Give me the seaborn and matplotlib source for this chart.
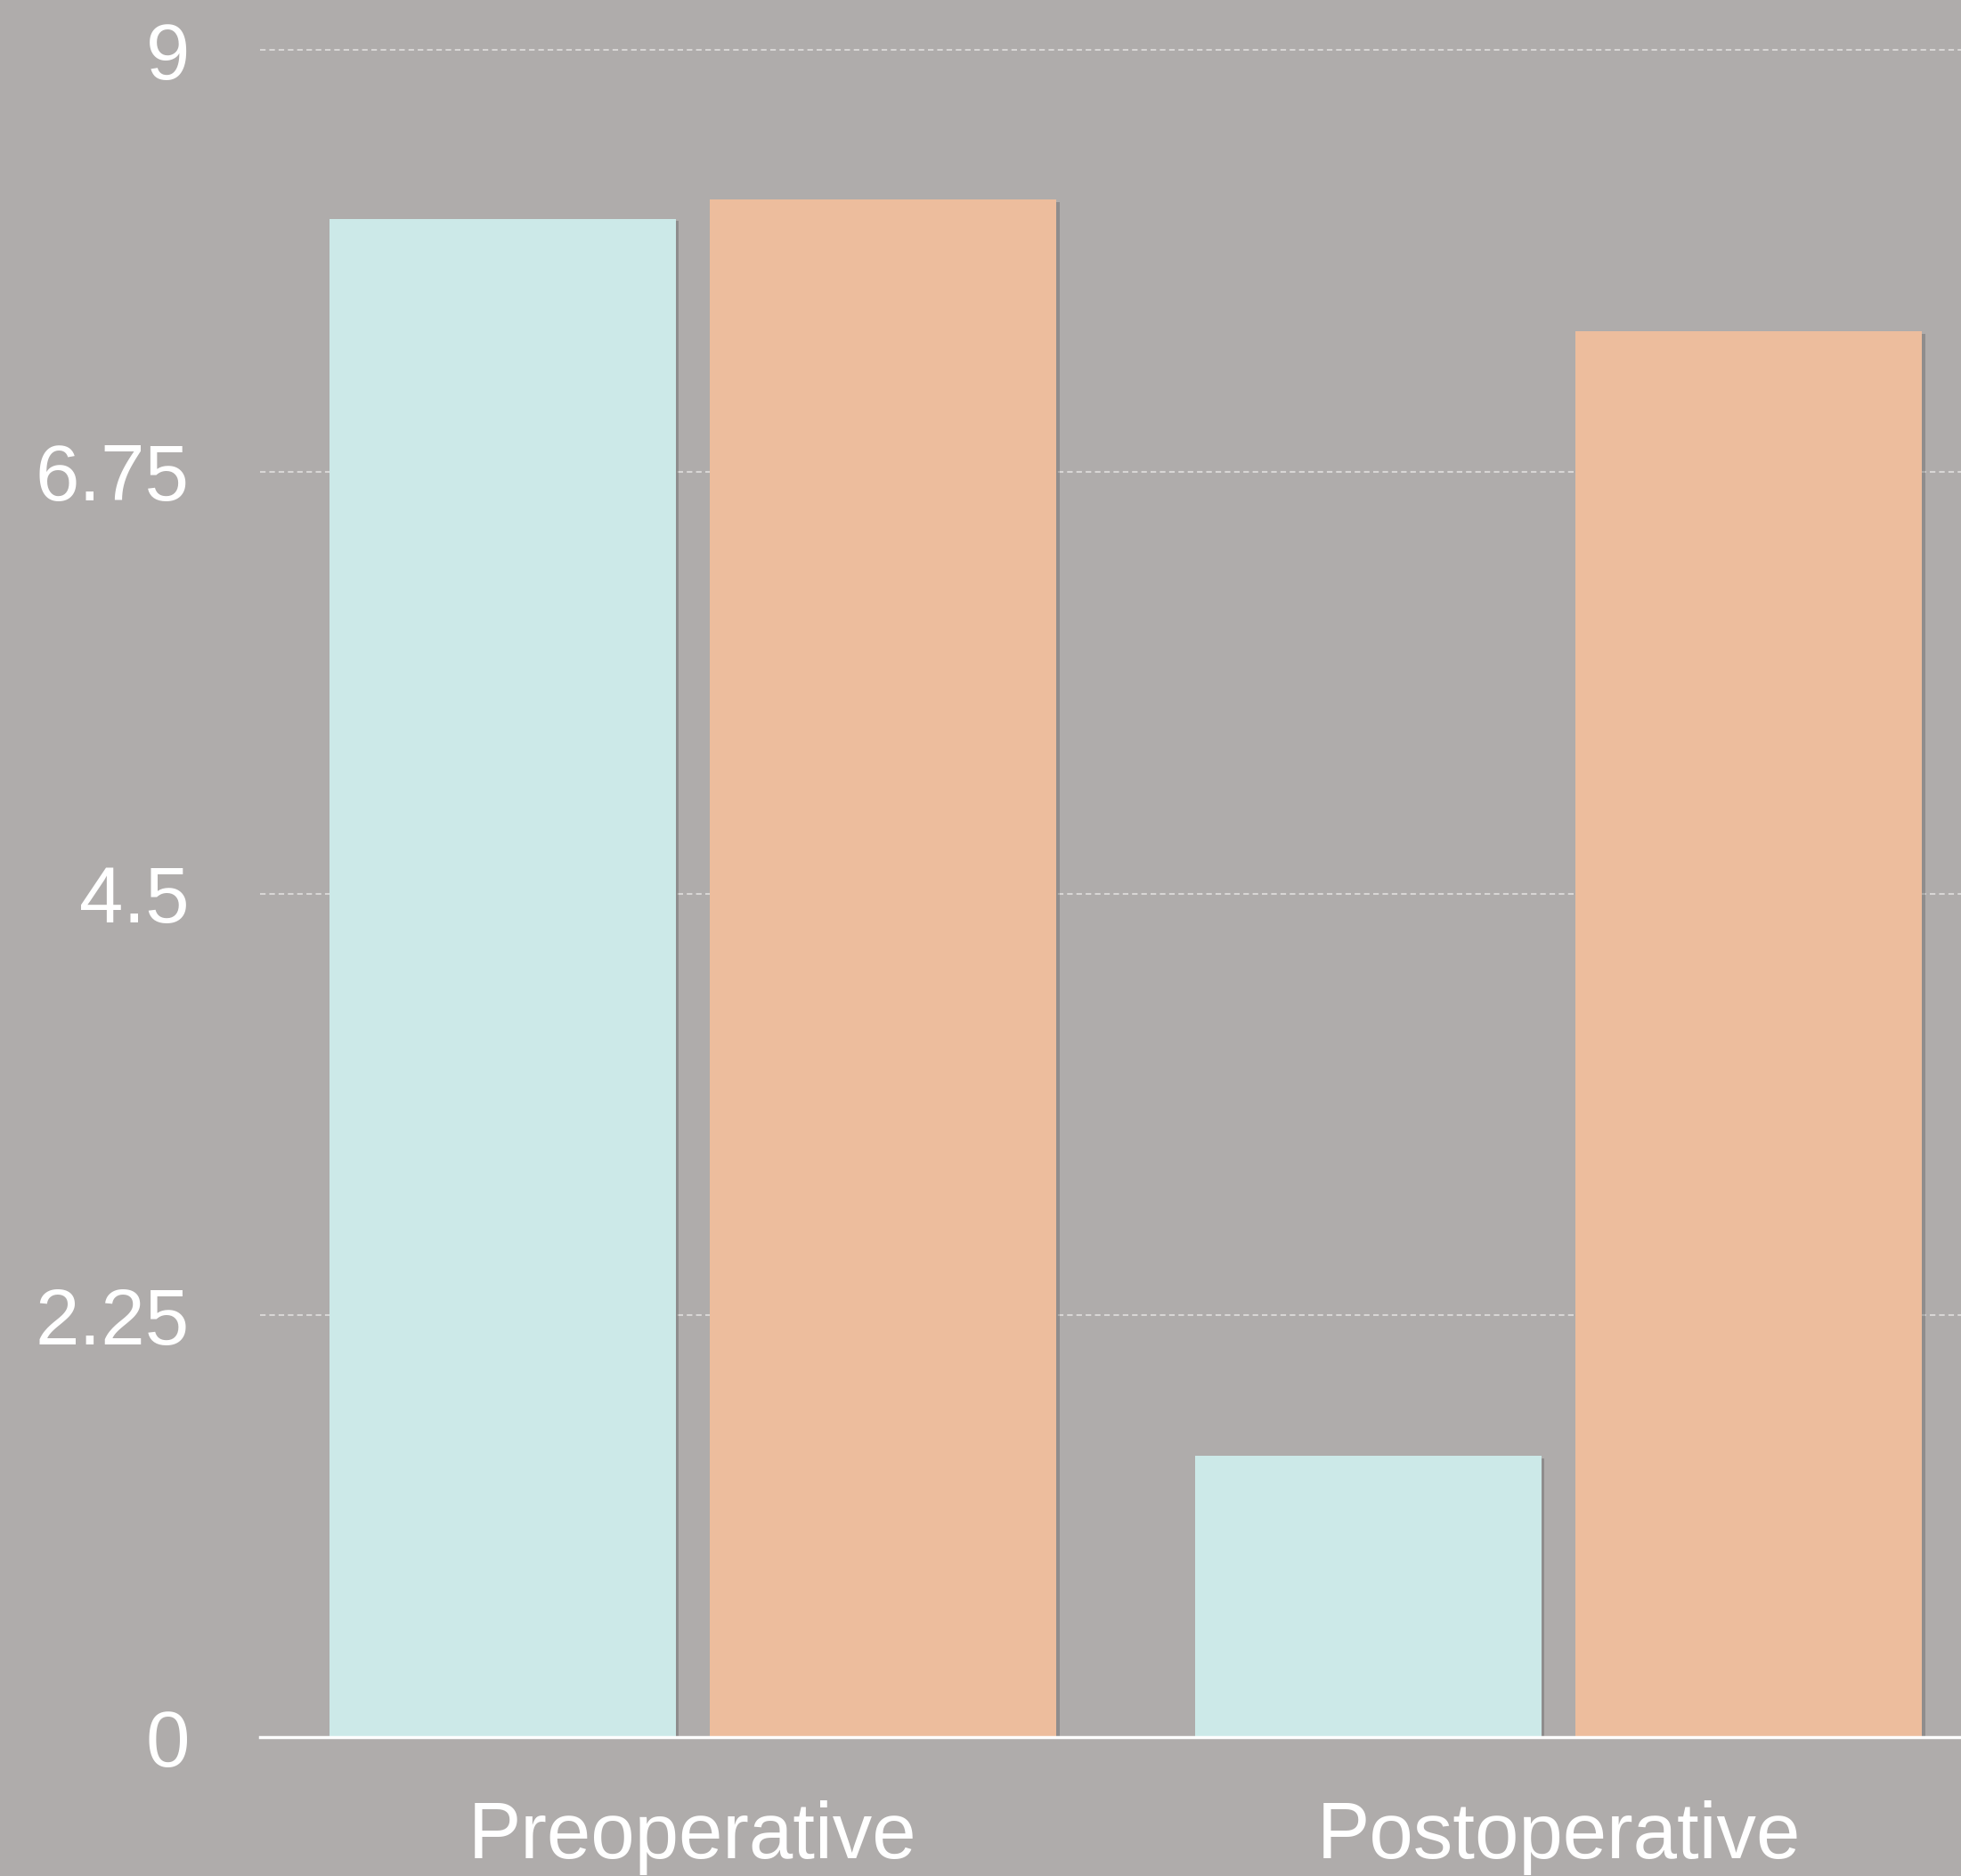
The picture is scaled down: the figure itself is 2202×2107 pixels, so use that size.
import matplotlib
matplotlib.use("Agg")
import matplotlib.pyplot as plt
import matplotlib.patheffects as pe
import numpy as np
import pandas as pd
import seaborn as sns

# Values per period for the two groups
categories = ["Preoperative", "Postoperative"]
group_names = ["Group A", "Group B"]
group_a = [8.1, 1.5]
group_b = [8.2, 7.5]
y_ticks = [0, 2.25, 4.5, 6.75, 9]
y_tick_labels = ["0", "2.25", "4.5", "6.75", "9"]

colors = ["#CCE9E8", "#EDBD9D"]
bg = "#AFACAB"

df = pd.DataFrame({
    "period": categories * 2,
    "group": [group_names[0]] * len(categories) + [group_names[1]] * len(categories),
    "value": group_a + group_b,
})

sns.set_theme(style="white")
plt.rcParams["font.family"] = ["Liberation Sans", "DejaVu Sans"]

fig = plt.figure(figsize=(22.02, 21.07), dpi=100, facecolor=bg)
ax = fig.add_axes([0.1326, 0.0740, 0.8674, 0.8994])
ax.set_facecolor(bg)

sns.barplot(data=df, x="period", y="value", hue="group", order=categories,
            hue_order=group_names, palette=colors, width=0.88, gap=0.09,
            linewidth=0, saturation=1, legend=False, ax=ax, zorder=3)

# soft drop shadow on the bars
for p in ax.patches:
    p.set_path_effects([pe.SimplePatchShadow(offset=(2.5, -2), shadow_rgbFace="#555555", alpha=0.35),
                        pe.Normal()])

ax.set_ylim(0, 9)
ax.set_xlim(-0.5, 1.465)
ax.set_yticks(y_ticks)
ax.set_yticklabels(y_tick_labels)

# dotted horizontal guides behind bars
for yv in y_ticks[1:]:
    ax.axhline(yv, color="#D8D6D5", linewidth=1.5, linestyle=(0, (3, 2)),
               zorder=1, clip_on=False)

for s in ["top", "right", "left"]:
    ax.spines[s].set_visible(False)
ax.spines["bottom"].set_color("white")
ax.spines["bottom"].set_linewidth(2.5)
ax.spines["bottom"].set_zorder(4)
ax.spines["bottom"].set_path_effects([pe.SimplePatchShadow(offset=(0, -2), shadow_rgbFace="#555555", alpha=0.4),
                                      pe.Normal()])

ax.tick_params(axis="y", length=0, pad=57, labelsize=64, labelcolor="white")
ax.tick_params(axis="x", length=0, pad=51, labelsize=64, labelcolor="white")
ax.set_xlabel("")
ax.set_ylabel("")

fig.savefig("out.png", dpi=100, facecolor=bg)
